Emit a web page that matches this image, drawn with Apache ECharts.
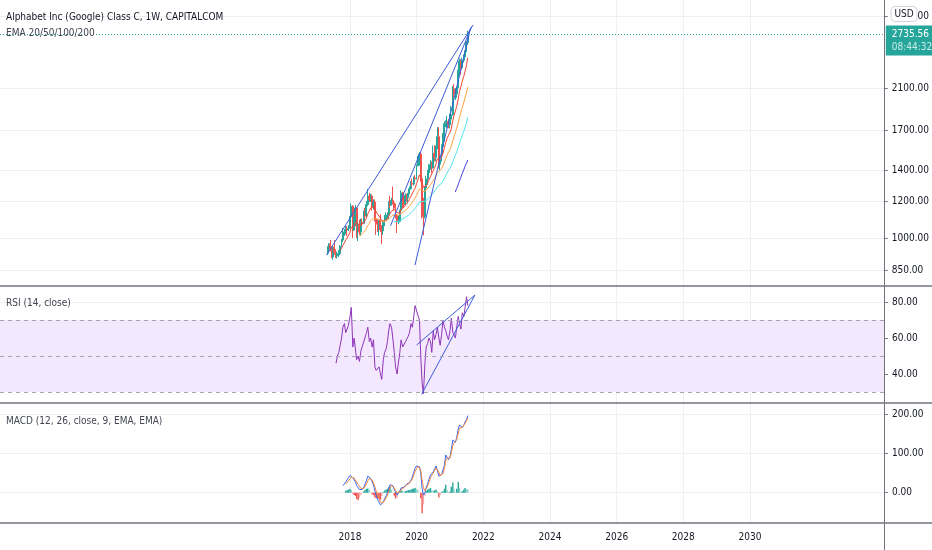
<!DOCTYPE html>
<html><head><meta charset="utf-8">
<script src="https://cdn.jsdelivr.net/npm/echarts@6/dist/echarts.min.js"></script>
<style>html,body{margin:0;padding:0;background:#fff}#c{width:932px;height:550px}</style>
</head><body><div id="c"></div>
<script>
// ---------- DATA ----------
const dates = [
'2017-05-01','2017-05-15','2017-06-01','2017-06-15','2017-07-01','2017-07-15','2017-08-01','2017-08-15','2017-09-01','2017-09-15','2017-10-01','2017-10-15','2017-11-01','2017-11-15','2017-12-01','2017-12-15',
'2018-01-01','2018-01-15','2018-02-01','2018-02-15','2018-03-01','2018-03-15','2018-04-01','2018-04-15','2018-05-01','2018-05-15','2018-06-01','2018-06-15','2018-07-01','2018-07-15','2018-08-01','2018-08-15','2018-09-01','2018-09-15','2018-10-01','2018-10-15','2018-11-01','2018-11-15','2018-12-01','2018-12-15',
'2019-01-01','2019-01-15','2019-02-01','2019-02-15','2019-03-01','2019-03-15','2019-04-01','2019-04-15','2019-05-01','2019-05-15','2019-06-01','2019-06-15','2019-07-01','2019-07-15','2019-08-01','2019-08-15','2019-09-01','2019-09-15','2019-10-01','2019-10-15','2019-11-01','2019-11-15','2019-12-01','2019-12-15',
'2020-01-01','2020-01-15','2020-02-01','2020-02-15','2020-03-01','2020-03-15','2020-04-01','2020-04-15','2020-05-01','2020-05-15','2020-06-01','2020-06-15','2020-07-01','2020-07-15','2020-08-01','2020-08-15','2020-09-01','2020-09-15','2020-10-01','2020-10-15','2020-11-01','2020-11-15','2020-12-01','2020-12-15',
'2021-01-01','2021-01-15','2021-02-01','2021-02-15','2021-03-01','2021-03-15','2021-04-01','2021-04-15','2021-05-01','2021-05-15','2021-06-01','2021-06-15','2021-07-01','2021-07-15'
];
// [open, close, low, high]
const ohlc = [
[930,955,920,960],[955,970,925,975],[970,945,935,990],[945,910,905,960],[910,955,898,960],[955,930,920,990],[930,915,905,945],[915,925,903,935],[925,925,910,942],[925,960,918,965],[960,990,955,995],[990,1020,980,1050],[1020,1030,1010,1045],[1030,1045,1018,1062],[1045,1040,1010,1060],[1040,1046,1034,1065],
[1048,1110,1045,1115],[1110,1170,1100,1186],[1170,1040,1000,1175],[1040,1100,1035,1112],[1100,1160,1060,1177],[1160,1030,1000,1165],[1030,1070,985,1080],[1070,1030,1015,1095],[1030,1080,1010,1100],[1080,1075,1060,1100],[1075,1120,1070,1145],[1120,1115,1100,1160],[1115,1180,1105,1200],[1180,1230,1170,1275],[1230,1210,1195,1250],[1210,1230,1195,1245],[1230,1165,1145,1240],[1165,1195,1150,1210],[1195,1100,1085,1210],[1100,1070,1015,1130],[1070,1065,1030,1095],[1065,1090,1010,1095],[1090,1040,1030,1125],[1040,1035,970,1065],
[1035,1080,1015,1090],[1080,1090,1060,1120],[1090,1110,1090,1135],[1110,1120,1100,1135],[1120,1185,1100,1200],[1185,1175,1160,1230],[1175,1205,1175,1220],[1205,1190,1180,1290],[1190,1160,1145,1200],[1160,1120,1100,1185],[1120,1085,1025,1125],[1085,1085,1070,1120],[1085,1145,1080,1150],[1145,1250,1130,1265],[1250,1190,1160,1255],[1190,1180,1165,1210],[1180,1235,1175,1245],[1235,1220,1195,1245],[1220,1245,1185,1250],[1245,1275,1240,1290],[1275,1310,1270,1325],[1310,1305,1290,1340],[1305,1345,1295,1355],[1345,1340,1335,1365],
[1340,1430,1335,1440],[1430,1435,1425,1500],[1435,1515,1430,1530],[1515,1340,1320,1530],[1340,1170,1100,1410],[1170,1110,1013,1220],[1110,1280,1100,1290],[1280,1340,1250,1360],[1340,1380,1300,1400],[1380,1430,1370,1440],[1430,1440,1400,1470],[1440,1415,1380,1460],[1415,1520,1410,1580],[1520,1490,1460,1580],[1490,1560,1460,1580],[1560,1650,1550,1730],[1650,1440,1410,1730],[1440,1470,1400,1500],[1470,1570,1460,1590],[1570,1620,1510,1680],[1620,1760,1610,1780],[1760,1770,1730,1790],[1770,1780,1720,1830],[1780,1750,1720,1800],
[1750,1800,1720,1850],[1800,1840,1790,1920],[1840,2090,1830,2120],[2090,2040,2000,2140],[2040,2040,1980,2100],[2040,2100,2000,2110],[2100,2280,2080,2300],[2280,2400,2250,2430],[2400,2320,2240,2420],[2320,2410,2300,2440],[2410,2450,2380,2480],[2450,2520,2420,2530],[2520,2630,2510,2650],[2630,2735.56,2600,2790]
];
const ema20Start = 9;
const ema20 = [940,950,963,976,989,999,1008,1027,1054,1051,1060,1079,1070,1070,1062,1065,1067,1077,1084,1102,1126,1142,1159,1160,1167,1154,1138,1124,1118,1103,1090,1088,1088,1092,1097,1114,1126,1141,1150,1152,1146,1134,1125,1129,1152,1159,1163,1177,1185,1196,1211,1230,1244,1263,1278,1307,1331,1366,1361,1325,1284,1283,1294,1310,1333,1353,1365,1394,1412,1440,1480,1472,1472,1491,1516,1562,1602,1636,1658,1685,1714,1785,1833,1872,1915,1984,2063,2112,2169,2222,2279,2346,2440];
const ema50Start = 23;
const ema50 = [1010,1016,1021,1029,1036,1048,1063,1075,1088,1094,1102,1102,1099,1096,1096,1091,1086,1086,1086,1088,1091,1099,1105,1113,1119,1122,1122,1119,1116,1118,1129,1134,1138,1146,1152,1160,1170,1182,1192,1205,1216,1234,1251,1273,1279,1270,1257,1259,1266,1275,1288,1301,1310,1327,1341,1359,1383,1388,1395,1410,1427,1455,1481,1506,1526,1549,1573,1616,1651,1683,1718,1765,1818,1860,1906,1951,1998,2050,2110];
const ema100Start = 48;
const ema100 = [1083,1085,1085,1085,1088,1095,1099,1102,1108,1113,1118,1125,1133,1140,1149,1157,1168,1179,1193,1199,1198,1194,1198,1204,1211,1220,1229,1237,1249,1259,1272,1288,1294,1301,1312,1325,1343,1361,1379,1395,1412,1430,1458,1482,1505,1530,1562,1597,1627,1660,1693,1728,1766,1815];
const ema200Start = 92;
const ema200 = [1255,1277,1300,1325,1350,1375,1400,1425,1447,1470];
const rsiStart = 6;
const rsi = [46,50,52,56,60,66,68,63,64,67,72,77,55,60,61,48,50,47,53,54,58,57,63,66,58,60,55,59,44,42,41,44,40,37,48,52,54,58,64,68,66,60,52,44,40,46,52,59,55,54,58,57,61,63,68,66,72,78,75,74,70,50,35,29,46,55,57,60,58,52,64,59,62,66,60,56,62,70,66,64,61,59,64,71,63,62,60,66,72,68,65,74,72,77,82.9,78];
const macdStart = 11;
const macd = [18,22,27,32,38,44,47,38,33,28,18,14,8,5,8,14,22,32,42,43,36,28,20,4,-8,-18,-24,-31,-30,-24,-16,-8,0,12,20,24,18,8,2,-6,-4,5,12,15,14,18,22,24,26,32,40,52,62,68,72,66,50,12,-6,0,14,22,34,45,48,53,58,68,68,42,40,46,50,70,96,92,84,90,110,134,132,128,140,162,172,168,166,172,180,186,196];
const signalStart = 13;
const signal = [22,25,30,35,40,39,37,33,27,21,16,11,9,11,15,22,30,36,36,32,26,15,4,-7,-15,-24,-27,-25,-20,-13,-6,4,12,19,18,12,6,0,-2,2,8,12,13,16,20,22,24,29,35,45,54,61,67,66,57,33,13,5,10,17,27,38,44,50,55,63,66,52,44,45,48,62,82,88,86,88,101,120,127,128,135,151,164,166,166,170,176,182,190];
const histStart = 13;
const hist = [5,6,8,10,7,-2,-6,-8,-16,-19,-12,-6,-1,4,7,10,11,7,0,-4,-6,-12,-14,-15,-16,-18,-8,2,6,8,10,13,15,8,0,-8,-15,-12,-2,4,6,5,3,4,5,6,7,8,10,11,12,9,7,0,-14,-52,-30,-8,5,8,10,12,6,5,6,8,4,-12,-6,2,4,10,20,6,-1,3,15,26,8,2,10,27,12,3,4,8,12,9,8];
// drawn trend lines: [startDate, startValue, endDate, endValue]
const priceTrends = [
  ['2017-04-20', 919, '2021-09-12', 2869],
  ['2019-03-22', 1062, '2021-08-25', 2844],
  ['2019-12-15', 874, '2021-08-15', 2823]
];
const rsiTrends = [
  ['2020-01-01', 56.1, '2021-10-01', 83.9],
  ['2020-02-24', 28.7, '2021-10-01', 83.9]
];
const priceTicks = [850, 1000, 1200, 1400, 1700, 2100, 3000];
const rsiTicks = [40, 60, 80];
const rsiLevels = [70, 50, 30];
const macdTicks = [0, 100, 200];
const yearTicks = ['2018-01-01','2020-01-01','2022-01-01','2024-01-01','2026-01-01','2028-01-01','2030-01-01'];
const xRange = ['2007-07-03', '2034-01-08'];
const lastPrice = 2735.56;
const countdown = '08:44:32';
const titles = ['Alphabet Inc (Google) Class C, 1W, CAPITALCOM', 'EMA 20/50/100/200', 'RSI (14, close)', 'MACD (12, 26, close, 9, EMA, EMA)'];

// ---------- CHART ----------
const FONT = "'DejaVu Sans Condensed','Liberation Sans Narrow','Liberation Sans',sans-serif";
const GRID_COLOR = '#eef0f4';
const ts = d => Date.parse(d + 'T00:00:00Z');
const chart = echarts.init(document.getElementById('c'), null, {renderer: 'canvas'});

const pairs = (start, arr) => arr.map((v, i) => [ts(dates[start + i]), v]);
const lineSeries = (name, start, arr, color, xi, yi) => ({
  name, type: 'line', xAxisIndex: xi, yAxisIndex: yi, data: pairs(start, arr),
  showSymbol: false, symbol: 'none', silent: true, lineStyle: {color, width: 1}, z: 3
});
const trendSeries = (t, xi, yi) => ({
  type: 'line', xAxisIndex: xi, yAxisIndex: yi, data: [[ts(t[0]), t[1]], [ts(t[2]), t[3]]],
  showSymbol: false, symbol: 'none', silent: true, lineStyle: {color: '#3d5bd9', width: 1}, z: 4
});
const yearTs = yearTicks.map(ts);

const xAxes = [0, 1, 2].map(i => ({
  type: 'value', gridIndex: i, min: ts(xRange[0]), max: ts(xRange[1]),
  axisLine: {show: false},
  axisTick: {show: false, customValues: yearTs},
  splitLine: {show: true, lineStyle: {color: GRID_COLOR, width: 1}},
  axisLabel: {show: i === 2, customValues: yearTs, formatter: v => String(new Date(v).getUTCFullYear()),
    color: '#131722', fontSize: 10, fontFamily: FONT, margin: 9}
}));

const yCommon = (ticks, fmt) => ({
  position: 'right',
  axisLine: {show: false},
  axisTick: {show: true, length: 4, customValues: ticks, lineStyle: {color: '#787b86'}},
  splitLine: {show: true, lineStyle: {color: GRID_COLOR, width: 1}},
  axisLabel: {customValues: ticks, formatter: fmt, color: '#131722', fontSize: 10, fontFamily: FONT, margin: 8}
});

let prevH = null;
const histColors = hist.map(v => {
  const p = prevH; prevH = v;
  if (v >= 0) return (p === null || v >= p) ? '#26a69a' : '#8fd0c8';
  return (p === null || v < p) ? '#ef5350' : '#f7a9a7';
});

const titleStyle = (c) => ({fontSize: 10, fontWeight: 'normal', color: c, fontFamily: FONT});
const option = {
  animation: false,
  backgroundColor: '#ffffff',
  textStyle: {fontFamily: FONT},
  title: [
    {text: titles[0], left: 6, top: 12, padding: 0, textStyle: titleStyle('#131722')},
    {text: titles[1], left: 6, top: 28, padding: 0, textStyle: titleStyle('#434651')},
    {text: titles[2], left: 6, top: 298, padding: 0, textStyle: titleStyle('#434651')},
    {text: titles[3], left: 6, top: 416, padding: 0, textStyle: titleStyle('#434651')}
  ],
  grid: [
    {left: 0, right: 48, top: 0, height: 286},
    {left: 0, right: 48, top: 286, height: 117},
    {left: 0, right: 48, top: 403, height: 120}
  ],
  xAxis: xAxes,
  yAxis: [
    Object.assign({type: 'log', gridIndex: 0, min: 788.2, max: 3246}, yCommon(priceTicks, v => Number(v).toFixed(2))),
    Object.assign({type: 'value', gridIndex: 1, min: 23.9, max: 88.9}, yCommon(rsiTicks, v => Number(v).toFixed(2))),
    Object.assign({type: 'value', gridIndex: 2, min: -77, max: 228}, yCommon(macdTicks, v => Number(v).toFixed(2)))
  ],
  series: [
    {
      type: 'candlestick', xAxisIndex: 0, yAxisIndex: 0, silent: true, barWidth: 1.4,
      data: dates.map((d, i) => [ts(d)].concat(ohlc[i])),
      itemStyle: {color: '#26a69a', color0: '#ef5350', borderColor: '#26a69a', borderColor0: '#ef5350', borderWidth: 1},
      z: 2,
      markLine: {
        silent: true, symbol: 'none', animation: false,
        lineStyle: {color: '#26a69a', type: [1, 2], width: 1},
        label: {
          show: true, position: 'end', distance: 2, offset: [0, 6],
          formatter: () => '{a|' + lastPrice.toFixed(2) + '}\n{b|' + countdown + '}',
          backgroundColor: '#26a69a', padding: [2, 10, 2, 6],
          rich: {a: {color: '#ffffff', fontSize: 10, lineHeight: 13, fontFamily: FONT},
                 b: {color: '#c9ede8', fontSize: 10, lineHeight: 13, fontFamily: FONT}}
        },
        data: [{yAxis: lastPrice}]
      }
    },
    lineSeries('EMA20', ema20Start, ema20, '#f44336', 0, 0),
    lineSeries('EMA50', ema50Start, ema50, '#ffa040', 0, 0),
    lineSeries('EMA100', ema100Start, ema100, '#4fe3ec', 0, 0),
    lineSeries('EMA200', ema200Start, ema200, '#4a3fe0', 0, 0),
    ...priceTrends.map(t => trendSeries(t, 0, 0)),
    Object.assign(lineSeries('RSI', rsiStart, rsi, '#8e35b8', 1, 1), {
      markArea: {silent: true, itemStyle: {color: '#f3e8fd'}, data: [[{yAxis: rsiLevels[0]}, {yAxis: rsiLevels[2]}]]},
      markLine: {silent: true, symbol: 'none', label: {show: false},
        lineStyle: {color: '#a3a6af', type: [4, 4], width: 1},
        data: rsiLevels.map(v => ({yAxis: v}))}
    }),
    ...rsiTrends.map(t => trendSeries(t, 1, 1)),
    {
      type: 'bar', xAxisIndex: 2, yAxisIndex: 2, silent: true, barWidth: 1.4,
      data: hist.map((v, i) => ({value: [ts(dates[histStart + i]), v], itemStyle: {color: histColors[i]}})),
      z: 2
    },
    lineSeries('MACD', macdStart, macd, '#3a66f0', 2, 2),
    lineSeries('Signal', signalStart, signal, '#f5883a', 2, 2)
  ],
  graphic: [
    {type: 'line', silent: true, z: 100, shape: {x1: 884.5, y1: 0, x2: 884.5, y2: 550}, style: {stroke: '#70737d', lineWidth: 1}},
    {type: 'line', silent: true, z: 100, shape: {x1: 0, y1: 286, x2: 932, y2: 286}, style: {stroke: '#70737d', lineWidth: 1.5}},
    {type: 'line', silent: true, z: 100, shape: {x1: 0, y1: 403, x2: 932, y2: 403}, style: {stroke: '#70737d', lineWidth: 1.5}},
    {type: 'line', silent: true, z: 100, shape: {x1: 0, y1: 523, x2: 932, y2: 523}, style: {stroke: '#70737d', lineWidth: 1.5}},
    {type: 'rect', silent: true, z: 101, shape: {x: 891, y: 6.5, width: 26, height: 15, r: 4},
      style: {fill: '#ffffff', stroke: '#d1d4dc', lineWidth: 1}},
    {type: 'text', silent: true, z: 102, x: 904, y: 14, style: {text: 'USD', fill: '#131722', fontSize: 10, fontFamily: FONT, align: 'center', verticalAlign: 'middle'}}
  ]
};
chart.setOption(option);
</script>
</body></html>
